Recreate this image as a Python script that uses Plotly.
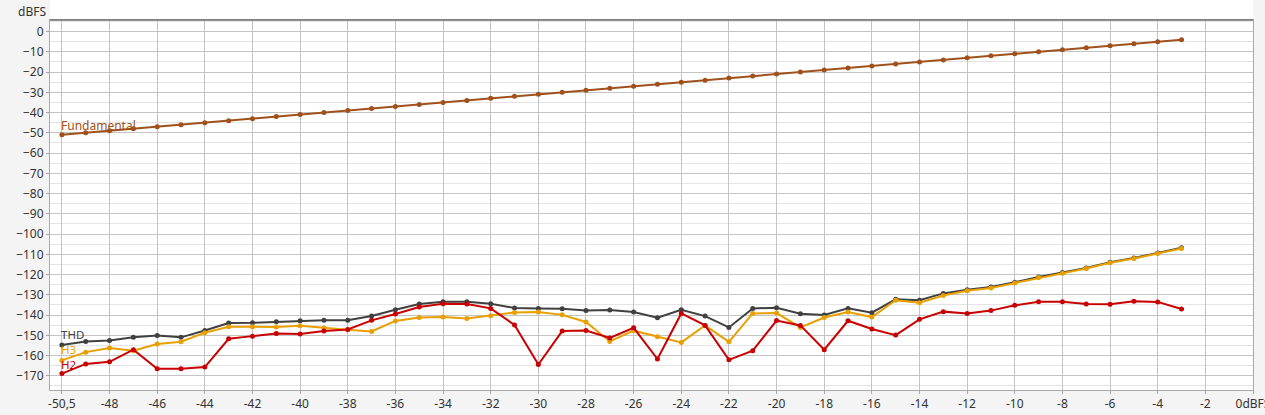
import plotly.graph_objects as go

# input level of each measurement step (dBFS)
levels = [-50.5, -49, -48, -47, -46, -45, -44, -43, -42, -41, -40, -39, -38, -37, -36, -35,
          -34, -33, -32, -31, -30, -29, -28, -27, -26, -25, -24, -23, -22, -21, -20, -19,
          -18, -17, -16, -15, -14, -13, -12, -11, -10, -9, -8, -7, -6, -5, -4, -3]

fundamental = [-51, -50, -49, -48, -47, -46, -45, -44, -43, -42, -41, -40, -39, -38, -37, -36,
               -35, -34, -33, -32, -31, -30, -29, -28, -27, -26, -25, -24, -23, -22, -21, -20,
               -19, -18, -17, -16, -15, -14, -13, -12, -11, -10, -9, -8, -7, -6, -5, -4]

thd = [-154.8, -153.0, -152.5, -151.0, -150.1, -151.0, -147.6, -143.9, -143.8, -143.3, -142.8, -142.6,
       -142.6, -140.5, -137.4, -134.5, -133.4, -133.4, -134.4, -136.5, -136.7, -136.9, -137.7, -137.5,
       -138.5, -141.3, -137.4, -140.5, -146.1, -136.7, -136.4, -139.3, -140.0, -136.7, -138.8, -132.2,
       -132.7, -129.3, -127.5, -126.1, -123.8, -121.2, -119.0, -116.7, -113.9, -111.8, -109.3, -106.8]

h3 = [-162.4, -158.3, -156.3, -157.6, -154.3, -153.2, -148.7, -145.8, -145.8, -145.9, -145.3, -146.4,
      -147.2, -148.1, -142.9, -141.2, -141.0, -141.7, -140.3, -138.7, -138.5, -139.9, -143.4, -153.0,
      -147.7, -150.7, -153.5, -145.1, -153.2, -139.2, -139.0, -146.1, -141.2, -138.5, -141.0, -132.7,
      -133.9, -130.3, -128.0, -126.6, -124.2, -121.5, -119.3, -117.0, -114.2, -112.1, -109.6, -107.1]

h2 = [-168.9, -164.1, -163.1, -157.1, -166.5, -166.5, -165.7, -151.7, -150.4, -149.1, -149.4, -147.9,
      -147.1, -142.6, -139.5, -136.0, -134.4, -134.5, -136.7, -144.9, -164.4, -147.9, -147.6, -151.3,
      -146.3, -161.7, -139.2, -145.1, -162.1, -157.6, -142.7, -145.1, -157.1, -142.8, -146.9, -149.9,
      -142.1, -138.3, -139.2, -137.8, -135.2, -133.4, -133.4, -134.5, -134.7, -133.2, -133.5, -137.0]

# empty steps at the end of the axis
extra_levels = [-2, -1, 0]


def fmt(v):
    # decimal comma like the original software
    return ("%g" % v).replace(".", ",")


cats = [fmt(v) for v in levels]
all_cats = cats + [fmt(v) for v in extra_levels[:-1]] + ["0dBFS"]
tick_cats = [c for i, c in enumerate(all_cats) if i % 2 == 0]

FONT = "Segoe UI, Noto Sans, Open Sans, sans-serif"

series = [
    ("THD", thd, "#404040"),
    ("H3", h3, "#e8a000"),
    ("H2", h2, "#c80000"),
    ("Fundamental", fundamental, "#a0501a"),
]

fig = go.Figure()
for name, vals, color in series:
    fig.add_trace(go.Scatter(
        x=cats, y=vals, name=name, mode="lines+markers",
        line=dict(color=color, width=2),
        marker=dict(color=color, size=5),
    ))

# series labels next to the first point
labels = [("Fundamental", -46.3, "#a0501a", 12), ("THD", -149.6, "#404040", 11.5),
          ("H3", -156.9, "#e8a000", 11.5), ("H2", -164.2, "#c80000", 11.5)]
for text, y, color, size in labels:
    fig.add_annotation(x=cats[0], y=y, text=text, showarrow=False, xanchor="left",
                       xshift=-2, borderpad=0,
                       font=dict(family=FONT, size=size, color=color))

fig.add_annotation(x=0, y=1, xref="paper", yref="paper", text="dBFS", showarrow=False,
                   xanchor="right", yanchor="bottom", xshift=-2, yshift=-2,
                   font=dict(family=FONT, size=12, color="#333333"))

# white strip above the plot area plus dark top border
fig.add_shape(type="rect", xref="x domain", yref="paper", x0=0, x1=1, y0=1, y1=1.06,
              fillcolor="white", line_width=0, layer="below")
fig.add_shape(type="line", xref="x domain", yref="paper", x0=0, x1=1, y0=1, y1=1,
              line=dict(color="#707070", width=1.5))

fig.update_layout(
    width=1265, height=415,
    margin=dict(l=50, r=12, t=20, b=25, autoexpand=False),
    paper_bgcolor="#f4f4f4", plot_bgcolor="white",
    showlegend=False,
    font=dict(family=FONT, size=12, color="#333333"),
    xaxis=dict(
        type="category", categoryorder="array", categoryarray=all_cats,
        range=[-0.5, len(all_cats) - 1], automargin=False,
        tickvals=tick_cats, ticktext=tick_cats,
        showgrid=True, gridcolor="#c4c4c4", gridwidth=1,
        showline=True, linecolor="#a8a8a8", mirror=True,
        ticks="outside", ticklen=3, tickcolor="#a8a8a8",
        zeroline=False,
    ),
    yaxis=dict(
        range=[-177, 5.7], tickmode="linear", tick0=0, dtick=10, automargin=False,
        showgrid=True, gridcolor="#c4c4c4", gridwidth=1,
        minor=dict(dtick=5, tick0=0, showgrid=True, gridcolor="#e4e4e4"),
        showline=True, linecolor="#a8a8a8", mirror=True,
        ticks="outside", ticklen=3, tickcolor="#a8a8a8",
        zeroline=False,
    ),
)

# drop the browser's default body margin so the chart sits at the window's corner
fig.write_html("out.html", config={"displayModeBar": False},
               post_script="document.body.style.margin='0';document.body.style.overflow='hidden';")
